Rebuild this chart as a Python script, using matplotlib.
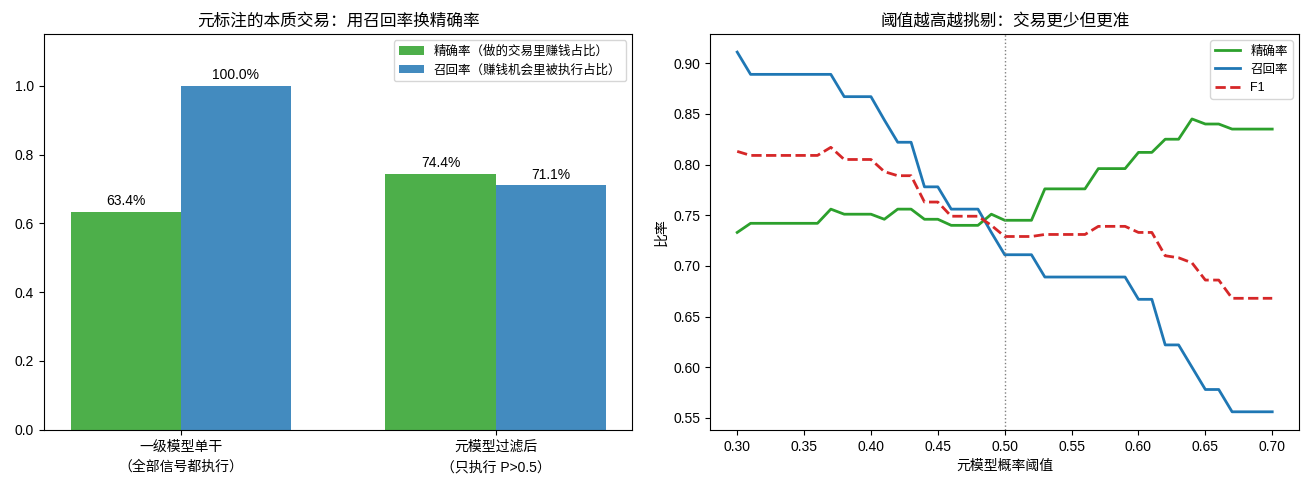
import matplotlib.pyplot as plt
import numpy as np

plt.rcParams["font.family"] = ["Liberation Sans", "Noto Sans CJK SC", "DejaVu Sans"]
plt.rcParams["axes.unicode_minus"] = False

# left panel: two strategies
groups = ["一级模型单干\n（全部信号都执行）", "元模型过滤后\n（只执行 P>0.5）"]
precision_bar = [0.634, 0.744]
recall_bar = [1.000, 0.711]

# right panel: threshold sweep
thresholds = [0.30, 0.31, 0.32, 0.33, 0.34, 0.35, 0.36, 0.37, 0.38, 0.39, 0.40,
              0.41, 0.42, 0.43, 0.44, 0.45, 0.46, 0.47, 0.48, 0.49, 0.50,
              0.51, 0.52, 0.53, 0.54, 0.55, 0.56, 0.57, 0.58, 0.59, 0.60,
              0.61, 0.62, 0.63, 0.64, 0.65, 0.66, 0.67, 0.68, 0.69, 0.70]
precision = [0.733, 0.742, 0.742, 0.742, 0.742, 0.742, 0.742, 0.756, 0.751, 0.751, 0.751,
             0.746, 0.756, 0.756, 0.746, 0.746, 0.740, 0.740, 0.740, 0.751, 0.745,
             0.745, 0.745, 0.776, 0.776, 0.776, 0.776, 0.796, 0.796, 0.796, 0.812,
             0.812, 0.825, 0.825, 0.845, 0.840, 0.840, 0.835, 0.835, 0.835, 0.835]
recall = [0.911, 0.889, 0.889, 0.889, 0.889, 0.889, 0.889, 0.889, 0.867, 0.867, 0.867,
          0.844, 0.822, 0.822, 0.778, 0.778, 0.756, 0.756, 0.756, 0.733, 0.711,
          0.711, 0.711, 0.689, 0.689, 0.689, 0.689, 0.689, 0.689, 0.689, 0.667,
          0.667, 0.622, 0.622, 0.600, 0.578, 0.578, 0.556, 0.556, 0.556, 0.556]
f1 = [0.813, 0.809, 0.809, 0.809, 0.809, 0.809, 0.809, 0.817, 0.805, 0.805, 0.805,
      0.793, 0.789, 0.789, 0.763, 0.763, 0.749, 0.749, 0.749, 0.740, 0.729,
      0.729, 0.729, 0.731, 0.731, 0.731, 0.731, 0.739, 0.739, 0.739, 0.733,
      0.733, 0.710, 0.708, 0.703, 0.686, 0.686, 0.668, 0.668, 0.668, 0.668]

fig, (ax1, ax2) = plt.subplots(1, 2, figsize=(13.08, 4.94), dpi=100)
fig.subplots_adjust(left=0.0336, right=0.9931, bottom=0.130, top=0.931, wspace=0.1325)

x = np.arange(len(groups))
w = 0.35
b1 = ax1.bar(x - w / 2, precision_bar, w, color="#4daf4a", label="精确率（做的交易里赚钱占比）")
b2 = ax1.bar(x + w / 2, recall_bar, w, color="#438bbf", label="召回率（赚钱机会里被执行占比）")
for bars in (b1, b2):
    for b in bars:
        ax1.text(b.get_x() + b.get_width() / 2, b.get_height() + 0.01,
                 f"{b.get_height() * 100:.1f}%", ha="center", va="bottom", fontsize=10)
ax1.set_xticks(x)
ax1.set_xticklabels(groups, fontsize=10, linespacing=1.6)
ax1.set_ylim(0, 1.15)
ax1.set_title("元标注的本质交易：用召回率换精确率", fontsize=12)
ax1.legend(fontsize=9, loc="upper right")

ax2.plot(thresholds, precision, color="tab:green", lw=2, label="精确率")
ax2.plot(thresholds, recall, color="tab:blue", lw=2, label="召回率")
ax2.plot(thresholds, f1, color="tab:red", lw=2, ls="--", label="F1")
ax2.axvline(0.5, color="gray", ls=":", lw=1)
ax2.set_xlabel("元模型概率阈值", fontsize=10)
ax2.set_ylabel("比率", fontsize=10)
ax2.set_title("阈值越高越挑剔：交易更少但更准", fontsize=12)
ax2.legend(fontsize=9, loc="upper right")

plt.savefig("out.png")
